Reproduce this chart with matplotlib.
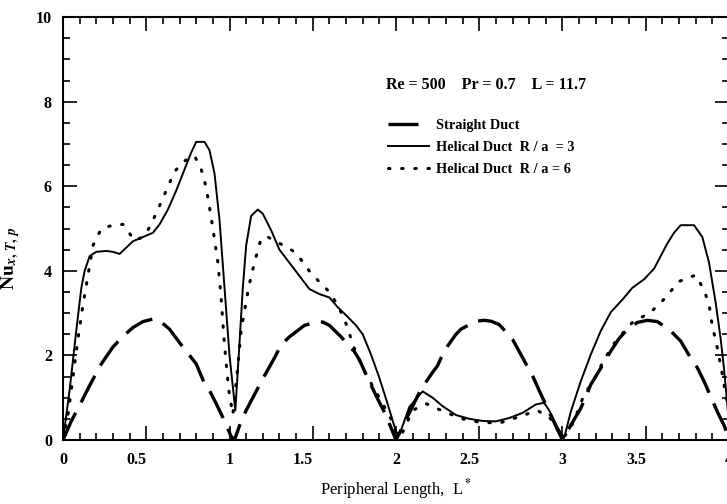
import matplotlib
matplotlib.use("Agg")
import matplotlib.pyplot as plt
import matplotlib.transforms as mtransforms

# Straight duct (long dashes), one arch per side of the duct
straight_x = [0, 0.05, 0.11, 0.16, 0.23, 0.30, 0.36, 0.42, 0.48, 0.54, 0.58, 0.64, 0.70, 0.75,
              0.80, 0.85, 0.88, 0.92, 0.97, 1.01, 1.03,
              1.07, 1.10, 1.14, 1.20, 1.27, 1.31, 1.36, 1.45, 1.51, 1.56, 1.60, 1.67, 1.75, 1.78,
              1.82, 1.88, 1.94, 2.00,
              2.05, 2.10, 2.15, 2.22, 2.25, 2.29, 2.36, 2.39, 2.48, 2.53, 2.57, 2.62, 2.70, 2.76,
              2.82, 2.88, 2.94, 3.00,
              3.05, 3.11, 3.17, 3.23, 3.29, 3.34, 3.39, 3.45, 3.51, 3.57, 3.65, 3.71, 3.77, 3.81,
              3.85, 3.93, 3.97, 4.00]
straight_y = [0, 0.45, 0.90, 1.29, 1.80, 2.20, 2.45, 2.66, 2.80, 2.86, 2.82, 2.62, 2.30, 2.05,
              1.80, 1.33, 1.17, 0.86, 0.45, 0.08, 0.0,
              0.45, 0.70, 1.00, 1.45, 1.94, 2.25, 2.44, 2.71, 2.78, 2.79, 2.71, 2.44, 2.09, 1.90,
              1.55, 1.05, 0.58, 0.0,
              0.40, 0.80, 1.20, 1.60, 1.76, 2.11, 2.50, 2.62, 2.81, 2.83, 2.81, 2.73, 2.38, 1.95,
              1.52, 1.00, 0.50, 0.0,
              0.35, 0.75, 1.31, 1.70, 2.10, 2.40, 2.62, 2.78, 2.83, 2.80, 2.58, 2.34, 1.94, 1.71,
              1.39, 0.67, 0.35, 0.05]

# Helical duct R/a = 3 (thin solid)
hel3_x = [0, 0.04, 0.08, 0.11, 0.13, 0.16, 0.20, 0.26, 0.30, 0.34, 0.38, 0.42, 0.48, 0.54,
          0.58, 0.63, 0.68, 0.73, 0.77, 0.80, 0.85, 0.88, 0.91, 0.94, 0.97, 1.00, 1.035,
          1.06, 1.08, 1.10, 1.13, 1.17, 1.20, 1.25, 1.30, 1.36, 1.42, 1.48, 1.54, 1.60, 1.65,
          1.70, 1.76, 1.80, 1.85, 1.90, 1.95, 2.00, 2.02,
          2.08, 2.16, 2.22, 2.28, 2.36, 2.44, 2.52, 2.60, 2.68, 2.76, 2.84, 2.89, 2.92, 2.97,
          3.01, 3.05, 3.11, 3.17, 3.23, 3.29, 3.36, 3.42, 3.49, 3.55, 3.59, 3.63, 3.67, 3.71,
          3.79, 3.84, 3.88, 3.92, 3.95, 3.97, 4.00]
hel3_y = [0, 1.20, 2.60, 3.60, 4.00, 4.35, 4.45, 4.47, 4.45, 4.40, 4.55, 4.70, 4.80, 4.90,
          5.10, 5.45, 5.90, 6.40, 6.80, 7.05, 7.05, 6.85, 6.30, 5.20, 3.60, 2.00, 0.70,
          2.30, 3.60, 4.60, 5.30, 5.45, 5.35, 4.96, 4.50, 4.19, 3.88, 3.57, 3.45, 3.37, 3.14,
          2.95, 2.71, 2.50, 2.02, 1.47, 0.85, 0.20, 0.12,
          0.78, 1.15, 1.00, 0.80, 0.59, 0.50, 0.45, 0.44, 0.52, 0.64, 0.84, 0.88, 0.70, 0.30,
          0.05, 0.67, 1.39, 2.02, 2.58, 3.02, 3.32, 3.60, 3.80, 4.05, 4.35, 4.65, 4.90, 5.08,
          5.08, 4.80, 4.20, 3.25, 2.40, 1.70, 0.40]

# Helical duct R/a = 6 (dotted)
hel6_x = [0, 0.03, 0.06, 0.09, 0.12, 0.15, 0.18, 0.23, 0.30, 0.36, 0.43, 0.48, 0.52, 0.57,
          0.62, 0.67, 0.73, 0.79, 0.83, 0.86, 0.88, 0.90, 0.915, 0.93, 0.95, 0.965, 0.98,
          0.995, 1.02, 1.05, 1.07, 1.09, 1.11, 1.13, 1.16, 1.19, 1.23, 1.29, 1.35, 1.40, 1.49,
          1.59, 1.65, 1.70, 1.76, 1.82, 1.90, 1.97, 2.00, 2.03,
          2.10, 2.18, 2.30, 2.40, 2.50, 2.62, 2.74, 2.85, 2.93, 3.00,
          3.04, 3.08, 3.13, 3.19, 3.25, 3.32, 3.42, 3.53, 3.61, 3.70, 3.80, 3.85, 3.88, 3.90,
          3.93, 3.96, 4.00]
hel6_y = [0, 0.60, 1.50, 2.40, 3.20, 3.90, 4.60, 5.00, 5.08, 5.10, 4.72, 4.80, 5.03, 5.45,
          5.90, 6.35, 6.60, 6.72, 6.40, 5.97, 5.50, 5.00, 4.60, 4.20, 3.35, 2.50, 1.80,
          1.20, 0.60, 1.74, 2.60, 3.05, 3.50, 3.88, 4.34, 4.77, 4.80, 4.67, 4.55, 4.42, 3.94,
          3.54, 3.20, 2.75, 2.05, 1.55, 1.00, 0.50, 0.15, 0.10,
          0.70, 0.86, 0.65, 0.50, 0.42, 0.40, 0.55, 0.70, 0.50, 0.05,
          0.20, 0.56, 1.07, 1.43, 1.90, 2.34, 2.78, 3.02, 3.33, 3.75, 3.90, 3.55, 3.21, 2.70,
          2.18, 1.55, 0.60]

x_ticks = [0, 0.5, 1, 1.5, 2, 2.5, 3, 3.5, 4]
x_ticklabels = ['0', '0.5', '1', '1.5', '2', '2.5', '3', '3.5', '4']

plt.rcParams['font.family'] = ['Liberation Serif', 'DejaVu Serif']
plt.rcParams['font.weight'] = 'bold'
plt.rcParams['mathtext.fontset'] = 'stix'

fig = plt.figure(figsize=(7.27, 5.04), dpi=100)
# right spine (x = 4) sits just past the right edge, like the cropped original
ax = fig.add_axes([0.0867, 0.127, 0.916, 0.839])

ax.plot(straight_x, straight_y, color='black', lw=2.4, linestyle=(0, (9, 3.5)),
        label='Straight Duct')
ax.plot(hel3_x, hel3_y, color='black', lw=1.4, label='Helical Duct  R / a  = 3')
ax.plot(hel6_x, hel6_y, color='black', lw=2.2, linestyle=(0, (0.5, 3.8)),
        dash_capstyle='round', label='Helical Duct  R / a = 6')

ax.set_xlim(0, 4)
ax.set_ylim(0, 10)
ax.set_xticks(x_ticks)
ax.set_xticklabels(x_ticklabels)
ax.set_xticks([i / 10 for i in range(41)], minor=True)
ax.set_yticks([0, 2, 4, 6, 8, 10])
ax.set_yticks([i / 2 for i in range(21)], minor=True)
ax.tick_params(which='both', direction='in', top=True, right=True, width=1.2,
               labelsize=11.5)
ax.tick_params(which='major', length=10)
ax.tick_params(axis='x', which='major', pad=9)
ax.tick_params(axis='y', which='major', pad=8)
ax.tick_params(which='minor', length=5)
for s in ax.spines.values():
    s.set_linewidth(1.5)

# the half-unit labels sit a little left of their ticks in the original
shift = mtransforms.ScaledTranslation(-7 / 72, 0, fig.dpi_scale_trans)
for lab, v in zip(ax.get_xticklabels(), x_ticks):
    if v % 1:
        lab.set_transform(lab.get_transform() + shift)

ax.set_xlabel(r'Peripheral Length,  L$^{\bf *}$', fontsize=12, labelpad=6)
ax.set_ylabel(r'$\mathbf{Nu}_{x,\,T,\,p}$', fontsize=14)
ax.yaxis.set_label_coords(-0.062, 0.43)

ax.text(1.94, 8.39, 'Re = 500    Pr = 0.7    L = 11.7', fontsize=11.5, va='center')
ax.legend(loc='upper left', bbox_to_anchor=(0.468, 0.79), frameon=False,
          handlelength=2.9, handletextpad=0.5, labelspacing=0.65,
          prop={'family': 'Liberation Serif', 'weight': 'bold', 'size': 10.3})

fig.savefig('out.png', dpi=100)
